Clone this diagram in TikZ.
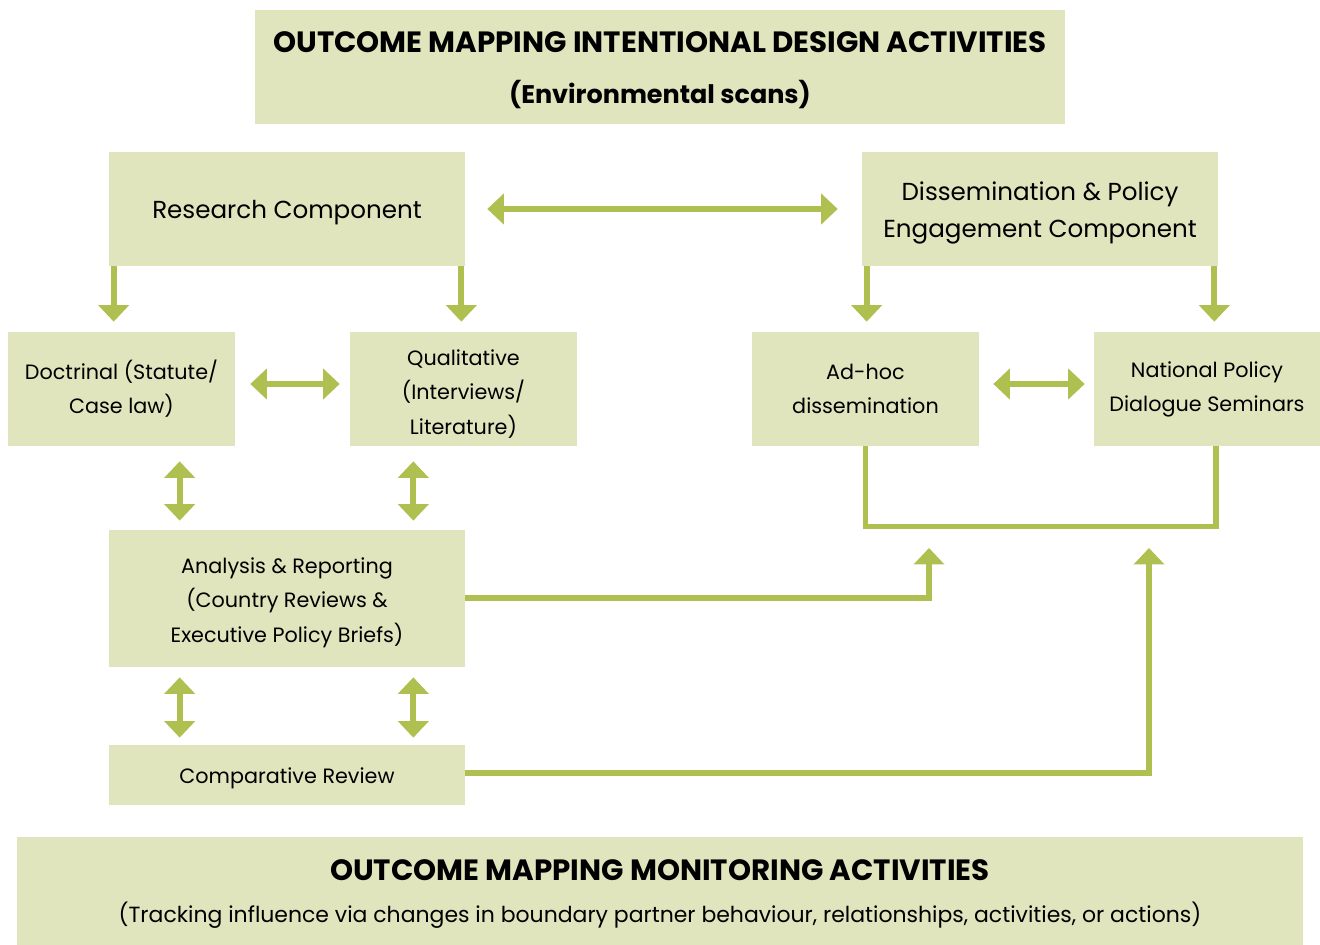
\documentclass[tikz,border=0pt]{standalone}
\usepackage{fontspec}
\setmainfont{Poppins}
\usetikzlibrary{calc,arrows.meta}

\definecolor{boxfill}{HTML}{E0E5BE}
\definecolor{arrowcol}{HTML}{AFC050}

\begin{document}
\begin{tikzpicture}[x=0.02cm, y=-0.02cm,
    textdrop/.style={execute at begin node={\setbox0=\hbox\bgroup},
      execute at end node={\egroup\raisebox{-#1}[\height][\depth]{\box0}}},
    box/.style={fill=boxfill, inner sep=0pt, align=center, font=\fontsize{11.8}{19.6}\selectfont, textdrop=1pt},
    bigbox/.style={box, font=\fontsize{14}{21}\selectfont, textdrop=1.2pt},
    headbox/.style={box, font=\bfseries\fontsize{14.5}{29}\selectfont, textdrop=0.6pt},
    link/.style={draw=arrowcol, line width=0.12cm},
    arr/.style={link, -{Triangle[width=0.6cm,length=0.33cm]}},
    dbl/.style={link, {Triangle[width=0.6cm,length=0.33cm]}-{Triangle[width=0.6cm,length=0.33cm]}}]

  % Canvas (pixel units of the reference)
  \useasboundingbox (0,0) rectangle (1320,945);

  % Header and footer
  \node[headbox, minimum width=16.2cm, minimum height=2.28cm] (design) at (660,67)
    {{\fontsize{16.7}{29}\selectfont OUTCOME MAPPING INTENTIONAL DESIGN ACTIVITIES}\\(Environmental scans)};
  \node[box, minimum width=25.72cm, minimum height=2.16cm, font=\fontsize{12.5}{23.8}\selectfont, textdrop=0.8pt] (monitor) at (660,891)
    {{\bfseries\fontsize{16.7}{23.8}\selectfont OUTCOME MAPPING MONITORING ACTIVITIES}\\
     (Tracking influence via changes in boundary partner behaviour, relationships, activities, or actions)};

  % Components
  \node[bigbox, minimum width=7.12cm, minimum height=2.28cm] (research) at (287,209)
    {Research Component};
  \node[bigbox, minimum width=7.12cm, minimum height=2.28cm] (dissem) at (1040,209)
    {Dissemination \& Policy\\Engagement Component};

  % Activities
  \node[box, minimum width=4.54cm, minimum height=2.28cm, textdrop=-1.2pt] (doctrinal) at (121.5,389)
    {Doctrinal (Statute/\\Case law)};
  \node[box, minimum width=4.54cm, minimum height=2.28cm, textdrop=1.8pt] (qualitative) at (463.5,389)
    {Qualitative\\(Interviews/\\Literature)};
  \node[box, minimum width=4.54cm, minimum height=2.28cm, textdrop=-1.2pt] (adhoc) at (865.5,389)
    {Ad-hoc\\dissemination};
  \node[box, minimum width=4.52cm, minimum height=2.28cm, textdrop=-0.8pt] (national) at (1207,389)
    {National Policy\\Dialogue Seminars};
  \node[box, minimum width=7.12cm, minimum height=2.74cm, textdrop=1.2pt] (analysis) at (287,598.5)
    {Analysis \& Reporting\\(Country Reviews \&\\Executive Policy Briefs)};
  \node[box, minimum width=7.12cm, minimum height=1.2cm, textdrop=1.1pt] (comparative) at (287,775)
    {Comparative Review};

  % Research <-> dissemination
  \draw[dbl, shorten <=0.44cm, shorten >=0.48cm] (research.east) -- (research.east -| dissem.west);

  % Components down to activities
  \draw[arr, shorten >=0.2cm] ([xshift=0.1cm]research.south west) -- ([xshift=0.1cm]research.south west |- doctrinal.north);
  \draw[arr, shorten >=0.2cm] ([xshift=-0.08cm]research.south east) -- ([xshift=-0.08cm]research.south east |- qualitative.north);
  \draw[arr, shorten >=0.2cm] ([xshift=0.1cm]dissem.south west) -- ([xshift=0.1cm]dissem.south west |- adhoc.north);
  \draw[arr, shorten >=0.2cm] ([xshift=-0.08cm]dissem.south east) -- ([xshift=-0.08cm]dissem.south east |- national.north);

  % Side by side
  \draw[dbl, shorten <=0.3cm, shorten >=0.2cm] ([yshift=0.1cm]doctrinal.east) -- ([yshift=0.1cm]qualitative.west);
  \draw[dbl, shorten <=0.28cm, shorten >=0.18cm] ([yshift=0.1cm]adhoc.east) -- ([yshift=0.1cm]national.west);

  % Activities <-> analysis <-> comparative
  \draw[dbl, shorten <=0.3cm, shorten >=0.18cm] ([xshift=1.42cm]analysis.north west |- doctrinal.south) -- ([xshift=1.42cm]analysis.north west);
  \draw[dbl, shorten <=0.3cm, shorten >=0.18cm] ([xshift=-1.04cm]analysis.north east |- qualitative.south) -- ([xshift=-1.04cm]analysis.north east);
  \draw[dbl, shorten <=0.2cm, shorten >=0.14cm] ([xshift=1.42cm]analysis.south west) -- ([xshift=1.42cm]comparative.north west);
  \draw[dbl, shorten <=0.2cm, shorten >=0.14cm] ([xshift=-1.04cm]analysis.south east) -- ([xshift=-1.04cm]comparative.north east);

  % Dissemination bracket and feeds
  \draw[link, line width=0.11cm] (adhoc.south) -- ++(0,80) -| ([xshift=0.18cm]national.south);
  \coordinate (feedA) at (929,548);
  \coordinate (feedB) at (1149,548);
  \draw[arr] (analysis.east) -| (feedA);
  \draw[arr] ([yshift=0.04cm]comparative.east) -| (feedB);

\end{tikzpicture}
\end{document}
